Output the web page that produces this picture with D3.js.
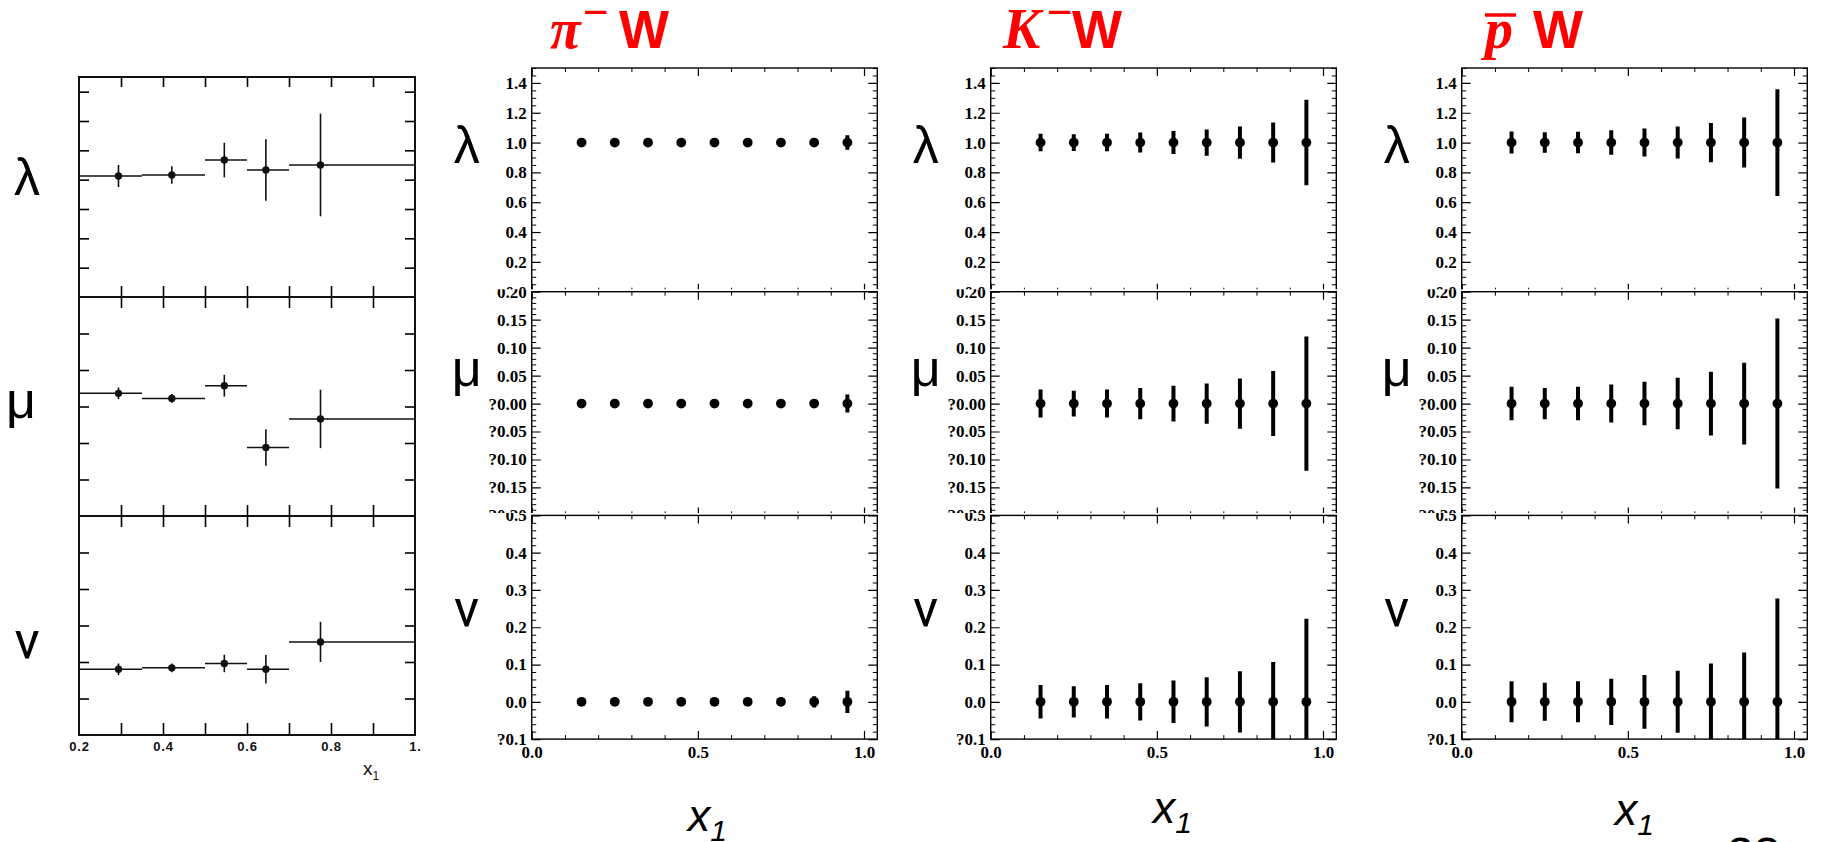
<!DOCTYPE html>
<html>
<head>
<meta charset="utf-8">
<script src="https://cdn.jsdelivr.net/npm/d3@7"></script>
<style>
  body { margin: 0; background: #fff; }
  svg { display: block; }
</style>
</head>
<body>
<svg id="chart" width="1822" height="842"></svg>
<script>
// ---------------- data ----------------
// x1 bin centres of the projected samples
const binCentres = [0.15, 0.25, 0.35, 0.45, 0.55, 0.65, 0.75, 0.85, 0.95];

// pi- W projection
const piLambda    = [1, 1, 1, 1, 1, 1, 1, 1, 1];
const piLambdaErr = [0.008, 0.008, 0.009, 0.010, 0.011, 0.013, 0.016, 0.022, 0.049];
const piMu        = [0, 0, 0, 0, 0, 0, 0, 0, 0];
const piMuErr     = [0.003, 0.003, 0.003, 0.003, 0.004, 0.004, 0.005, 0.007, 0.016];
const piNu        = [0, 0, 0, 0, 0, 0, 0, 0, 0];
const piNuErr     = [0.004, 0.004, 0.004, 0.005, 0.005, 0.006, 0.008, 0.015, 0.030];

// K- W projection
const kLambda     = [1, 1, 1, 1, 1, 1, 1, 1, 1];
const kLambdaErr  = [0.059, 0.056, 0.059, 0.067, 0.077, 0.088, 0.108, 0.134, 0.287];
const kMu         = [0, 0, 0, 0, 0, 0, 0, 0, 0];
const kMuErr      = [0.025, 0.023, 0.025, 0.028, 0.032, 0.036, 0.045, 0.058, 0.120];
const kNu         = [0, 0, 0, 0, 0, 0, 0, 0, 0];
const kNuErr      = [0.045, 0.042, 0.045, 0.050, 0.057, 0.066, 0.082, 0.107, 0.223];

// anti-proton W projection
const pbarLambda    = [1, 1, 1, 1, 1, 1, 1, 1, 1];
const pbarLambdaErr = [0.074, 0.069, 0.072, 0.082, 0.094, 0.107, 0.132, 0.168, 0.358];
const pbarMu        = [0, 0, 0, 0, 0, 0, 0, 0, 0];
const pbarMuErr     = [0.030, 0.028, 0.030, 0.034, 0.039, 0.046, 0.057, 0.073, 0.152];
const pbarNu        = [0, 0, 0, 0, 0, 0, 0, 0, 0];
const pbarNuErr     = [0.055, 0.051, 0.055, 0.062, 0.072, 0.083, 0.103, 0.132, 0.277];

// measured pi- W angular coefficients (left panel)
const measX         = [0.294, 0.421, 0.546, 0.645, 0.775];
const measBinLo     = [0.20, 0.35, 0.50, 0.60, 0.70];
const measBinHi     = [0.35, 0.50, 0.60, 0.70, 1.00];
const measLambda    = [0.825, 0.832, 0.934, 0.866, 0.900];
const measLambdaErr = [0.075, 0.059, 0.118, 0.209, 0.350];
const measMu        = [0.036, 0.022, 0.057, -0.112, -0.034];
const measMuErr     = [0.016, 0.012, 0.030, 0.050, 0.080];
const measNu        = [0.180, 0.184, 0.196, 0.180, 0.255];
const measNuErr     = [0.016, 0.012, 0.024, 0.039, 0.055];

// axis ticks and their printed labels
const lambdaTicks      = [0, 0.2, 0.4, 0.6, 0.8, 1.0, 1.2, 1.4];
const lambdaTickLabels = ["0.0", "0.2", "0.4", "0.6", "0.8", "1.0", "1.2", "1.4"];
const muTicks          = [-0.2, -0.15, -0.1, -0.05, 0, 0.05, 0.1, 0.15, 0.2];
const muTickLabels     = ["?0.20", "?0.15", "?0.10", "?0.05", "?0.00", "0.05", "0.10", "0.15", "0.20"];
const nuTicks          = [-0.1, 0, 0.1, 0.2, 0.3, 0.4, 0.5];
const nuTickLabels     = ["?0.1", "0.0", "0.1", "0.2", "0.3", "0.4", "0.5"];
const xTicks           = [0, 0.5, 1.0];
const xTickLabels      = ["0.0", "0.5", "1.0"];
const measXTicks       = [0.2, 0.4, 0.6, 0.8, 1.0];
const measXTickLabels  = ["0.2", "0.4", "0.6", "0.8", "1."];

const coefNames   = ["λ", "μ", "ν"];
const beamSymbols = ["π", "K", "p"];
const beamCharges = ["−", "−", ""];
const targetName  = "W";
const pageNumber  = "23";

// ---------------- drawing ----------------
const H = 842;
const SANS = "'Liberation Sans', Arial, sans-serif";
const SERIF = "'Liberation Serif', 'Times New Roman', serif";
// straight-stroked nu, Arial-like lambda and mu
const coefFonts = [SANS, SANS, "Roboto, 'Noto Sans', sans-serif"];
const RED = "#ff0000";

const svg = d3.select("#chart");
const defs = svg.append("defs");

function stripDomain(g) { g.select(".domain").remove(); }
function styleTicks(g, w) { g.selectAll(".tick line").attr("stroke", "#000").attr("stroke-width", w); }

// ---- measured data panel (left) ----
(function drawMeasured() {
  const left = 79, right = 415;
  const tops = [77, 297, 516], bottoms = [297, 516, 735];
  const x = d3.scaleLinear().domain([0.2, 1.0]).range([left, right]);
  const domains = [[0, 1.5], [-0.3, 0.3], [0, 0.6]];
  const yTicks = [[0.2, 0.4, 0.6, 0.8, 1.0, 1.2, 1.4], [-0.2, -0.1, 0, 0.1, 0.2], [0.1, 0.2, 0.3, 0.4, 0.5]];
  const values = [measLambda, measMu, measNu];
  const errors = [measLambdaErr, measMuErr, measNuErr];
  const innerX = [0.3, 0.4, 0.5, 0.6, 0.7, 0.8, 0.9];
  const labelBase = [195, 418, 658];
  const labelX = [27, 21, 27];
  const g = svg.append("g").attr("class", "measured");

  tops.forEach((t, r) => {
    const b = bottoms[r];
    const y = d3.scaleLinear().domain(domains[r]).range([b, t]);
    g.append("g").attr("transform", `translate(${left},0)`)
      .call(d3.axisLeft(y).tickValues(yTicks[r]).tickSize(-10).tickFormat(""))
      .call(stripDomain).call(s => styleTicks(s, 1.6));
    g.append("g").attr("transform", `translate(${right},0)`)
      .call(d3.axisRight(y).tickValues(yTicks[r]).tickSize(-10).tickFormat(""))
      .call(stripDomain).call(s => styleTicks(s, 1.6));
    g.append("g").attr("transform", `translate(0,${t})`)
      .call(d3.axisTop(x).tickValues(innerX).tickSize(r === 0 ? -10 : -11).tickFormat(""))
      .call(stripDomain).call(s => styleTicks(s, 1.6));
    g.append("g").attr("transform", `translate(0,${b})`)
      .call(d3.axisBottom(x).tickValues(innerX).tickSize(r === 2 ? -12 : -11).tickFormat(""))
      .call(stripDomain).call(s => styleTicks(s, 1.6));

    g.append("rect").attr("x", left).attr("y", t).attr("width", right - left).attr("height", b - t)
      .attr("fill", "none").attr("stroke", "#111").attr("stroke-width", 2);

    const v = values[r], e = errors[r];
    g.selectAll(null).data(v).enter().append("line")
      .attr("x1", (d, i) => x(measBinLo[i])).attr("x2", (d, i) => x(measBinHi[i]))
      .attr("y1", d => y(d)).attr("y2", d => y(d))
      .attr("stroke", "#111").attr("stroke-width", 1.5);
    g.selectAll(null).data(v).enter().append("line")
      .attr("x1", (d, i) => x(measX[i])).attr("x2", (d, i) => x(measX[i]))
      .attr("y1", (d, i) => y(d - e[i])).attr("y2", (d, i) => y(d + e[i]))
      .attr("stroke", "#111").attr("stroke-width", 1.6);
    g.selectAll(null).data(v).enter().append("circle")
      .attr("cx", (d, i) => x(measX[i])).attr("cy", d => y(d)).attr("r", 3.7).attr("fill", "#111");

    g.append("text").attr("x", labelX[r]).attr("y", labelBase[r])
      .attr("text-anchor", "middle").attr("font-family", coefFonts[r]).attr("font-size", 52)
      .attr("fill", "#000").text(coefNames[r]);
  });

  g.append("g").attr("transform", `translate(0,735)`)
    .call(d3.axisBottom(x).tickValues(measXTicks).tickSize(0).tickPadding(7)
      .tickFormat((d, i) => measXTickLabels[i]))
    .call(stripDomain)
    .call(s => s.selectAll("text").attr("font-family", SANS).attr("font-weight", "bold")
      .attr("font-size", 13).attr("letter-spacing", 0.8).attr("fill", "#111"));

  const xl = g.append("text").attr("x", 363).attr("y", 775)
    .attr("font-family", SANS).attr("font-size", 19).attr("fill", "#111");
  xl.append("tspan").text("x");
  xl.append("tspan").attr("dy", 5).attr("font-size", 12).text("1");
})();

// ---- projected panels (three columns) ----
const colLeft = [531.7, 990.7, 1461.7];
const colWidth = 345.6;
const rowTop = [68, 291.7, 515.4];
const rowH = 223.7;

const rows = [
  { domain: [0, 1.5], ticks: lambdaTicks, labels: lambdaTickLabels, minor: 0.05, nameBase: 163 },
  { domain: [-0.2, 0.2], ticks: muTicks, labels: muTickLabels, minor: 0.01, nameBase: 386 },
  { domain: [-0.1, 0.5], ticks: nuTicks, labels: nuTickLabels, minor: 0.02, nameBase: 626 }
];

const samples = [
  { vals: [piLambda, piMu, piNu], errs: [piLambdaErr, piMuErr, piNuErr] },
  { vals: [kLambda, kMu, kNu], errs: [kLambdaErr, kMuErr, kNuErr] },
  { vals: [pbarLambda, pbarMu, pbarNu], errs: [pbarLambdaErr, pbarMuErr, pbarNuErr] }
];

const xMinor = [0.1, 0.2, 0.3, 0.4, 0.6, 0.7, 0.8, 0.9];

samples.forEach((s, c) => {
  const x0 = colLeft[c], x1 = x0 + colWidth;
  const x = d3.scaleLinear().domain([0, 1.04]).range([x0, x1]);
  const col = svg.append("g").attr("class", "sample");

  rows.forEach((row, r) => {
    const y0 = rowTop[r], y1 = y0 + rowH;
    const y = d3.scaleLinear().domain(row.domain).range([y1, y0]);
    const minorVals = d3.range(Math.round((row.domain[1] - row.domain[0]) / row.minor) + 1)
      .map(k => +(row.domain[0] + k * row.minor).toFixed(4))
      .filter(v => !row.ticks.some(t => Math.abs(t - v) < 1e-6));

    // each pad hides whatever spills into it from the pad above
    const pad = col.append("g");
    const padTop = r === 0 ? 0 : y0 - 2.5;
    const padBottom = r === 2 ? H : y1 - 2.5;
    const padId = `pad-${c}-${r}`;
    defs.append("clipPath").attr("id", padId).append("rect")
      .attr("x", x0 - 120).attr("y", padTop).attr("width", colWidth + 140).attr("height", padBottom - padTop);
    pad.attr("clip-path", `url(#${padId})`);

    // left axis with labels
    pad.append("g").attr("transform", `translate(${x0},0)`)
      .call(d3.axisLeft(y).tickValues(row.ticks).tickSize(-9).tickPadding(5)
        .tickFormat((d, i) => row.labels[i]))
      .call(stripDomain).call(g => styleTicks(g, 1.2))
      .call(g => g.selectAll("text").attr("font-family", SERIF).attr("font-weight", "bold")
        .attr("font-size", 17).attr("fill", "#000"));
    pad.append("g").attr("transform", `translate(${x0},0)`)
      .call(d3.axisLeft(y).tickValues(minorVals).tickSize(-4.5).tickFormat(""))
      .call(stripDomain).call(g => styleTicks(g, 1));
    // right axis
    pad.append("g").attr("transform", `translate(${x1},0)`)
      .call(d3.axisRight(y).tickValues(row.ticks).tickSize(-9).tickFormat(""))
      .call(stripDomain).call(g => styleTicks(g, 1.2));
    pad.append("g").attr("transform", `translate(${x1},0)`)
      .call(d3.axisRight(y).tickValues(minorVals).tickSize(-4.5).tickFormat(""))
      .call(stripDomain).call(g => styleTicks(g, 1));
    // top / bottom axes
    pad.append("g").attr("transform", `translate(0,${y0})`)
      .call(d3.axisTop(x).tickValues(xTicks).tickSize(-8).tickFormat(""))
      .call(stripDomain).call(g => styleTicks(g, 1.2));
    pad.append("g").attr("transform", `translate(0,${y0})`)
      .call(d3.axisTop(x).tickValues(xMinor).tickSize(-4).tickFormat(""))
      .call(stripDomain).call(g => styleTicks(g, 1));
    const bottomAxis = d3.axisBottom(x).tickValues(xTicks).tickSize(-8).tickPadding(7);
    pad.append("g").attr("transform", `translate(0,${y1})`)
      .call(r === 2 ? bottomAxis.tickFormat((d, i) => xTickLabels[i]) : bottomAxis.tickFormat(""))
      .call(stripDomain).call(g => styleTicks(g, 1.2))
      .call(g => g.selectAll("text").attr("font-family", SERIF).attr("font-weight", "bold")
        .attr("font-size", 17).attr("fill", "#000"));
    pad.append("g").attr("transform", `translate(0,${y1})`)
      .call(d3.axisBottom(x).tickValues(xMinor).tickSize(-4).tickFormat(""))
      .call(stripDomain).call(g => styleTicks(g, 1));

    // frame
    pad.append("rect").attr("x", x0).attr("y", y0).attr("width", colWidth).attr("height", rowH)
      .attr("fill", "none").attr("stroke", "#000").attr("stroke-width", 1.4);

    // data, clipped to the frame
    const dataId = `data-${c}-${r}`;
    defs.append("clipPath").attr("id", dataId).append("rect")
      .attr("x", x0).attr("y", y0).attr("width", colWidth).attr("height", rowH);
    const dg = pad.append("g").attr("clip-path", `url(#${dataId})`);
    const v = s.vals[r], e = s.errs[r];
    dg.selectAll("line").data(v).enter().append("line")
      .attr("x1", (d, i) => x(binCentres[i])).attr("x2", (d, i) => x(binCentres[i]))
      .attr("y1", (d, i) => y(d - e[i])).attr("y2", (d, i) => y(d + e[i]))
      .attr("stroke", "#000").attr("stroke-width", 4);
    dg.selectAll("circle").data(v).enter().append("circle")
      .attr("cx", (d, i) => x(binCentres[i])).attr("cy", d => y(d)).attr("r", 4.9).attr("fill", "#000");

    // coefficient name
    col.append("text").attr("x", x0 - 65).attr("y", row.nameBase)
      .attr("text-anchor", "middle").attr("font-family", coefFonts[r]).attr("font-size", 52)
      .attr("fill", "#000").text(coefNames[r]);
  });

  // x1 axis title
  const xTitleX = [156, 162, 153][c];
  const xTitleY = [831, 823, 825][c];
  const xt = col.append("text").attr("x", x0 + xTitleX).attr("y", xTitleY)
    .attr("font-family", SANS).attr("font-style", "italic").attr("font-size", 45).attr("fill", "#000");
  xt.append("tspan").text("x");
  xt.append("tspan").attr("dy", 10).attr("font-size", 30).text("1");
});

// ---- beam / target titles ----
const titleLayout = [
  { sym: 550, charge: 583, target: 619 },
  { sym: 1003, charge: 1047, target: 1072 },
  { sym: 1485, charge: 0, target: 1533 }
];
beamSymbols.forEach((sym, c) => {
  const L = titleLayout[c];
  const g = svg.append("g").attr("class", "title");
  const st = g.append("text").attr("x", L.sym).attr("y", 48)
    .attr("font-family", SERIF).attr("font-style", "italic").attr("font-weight", "bold")
    .attr("font-size", 56).attr("fill", RED).text(sym);
  if (beamCharges[c]) {
    g.append("text").attr("x", L.charge).attr("y", 27)
      .attr("font-family", SANS).attr("font-size", 44)
      .attr("fill", RED).text(beamCharges[c]);
  } else {
    // antiparticle bar over the symbol
    const w = st.node().getComputedTextLength();
    g.append("line").attr("x1", L.sym).attr("x2", L.sym + w + 3).attr("y1", 15).attr("y2", 15)
      .attr("stroke", RED).attr("stroke-width", 3.5);
  }
  g.append("text").attr("x", L.target).attr("y", 48)
    .attr("font-family", SANS).attr("font-weight", "bold").attr("font-size", 53)
    .attr("fill", RED).text(targetName);
});

// slide page number, cut by the lower edge
svg.append("text").attr("x", 1727).attr("y", 871)
  .attr("font-family", SANS).attr("font-size", 48).attr("fill", "#000").text(pageNumber);
</script>
</body>
</html>
